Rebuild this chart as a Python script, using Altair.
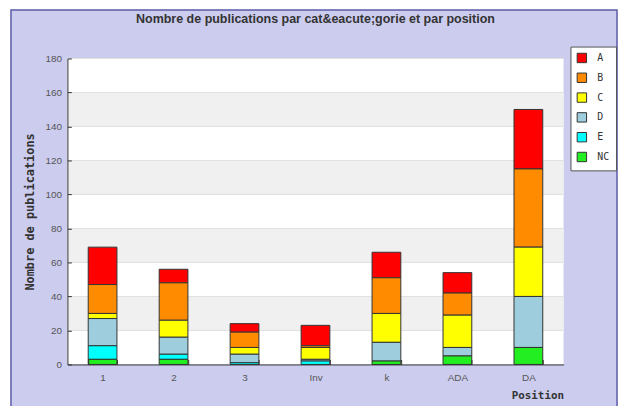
import altair as alt
import pandas as pd

categories = ["1", "2", "3", "Inv", "k", "ADA", "DA"]
series = ["A", "B", "C", "D", "E", "NC"]
colors = ["#FF0000", "#FF8C00", "#FFFF00", "#9ECEDE", "#00FFFF", "#22EE22"]
val_A = [22, 8, 5, 12, 15, 12, 35]
val_B = [17, 22, 9, 1, 21, 13, 46]
val_C = [3, 10, 4, 7, 17, 19, 29]
val_D = [16, 10, 5, 1, 11, 5, 30]
val_E = [8, 3, 1, 2, 0, 0, 0]
val_NC = [3, 3, 0, 0, 2, 5, 10]
y_ticks = [0, 20, 40, 60, 80, 100, 120, 140, 160, 180]
stripe_lo = [20, 60, 100, 140]
stripe_hi = [40, 80, 120, 160]
title_text = ["Nombre de publications par cat&eacute;gorie et par position"]

values = {"A": val_A, "B": val_B, "C": val_C, "D": val_D, "E": val_E, "NC": val_NC}
rows = []
for i, s in enumerate(series):
    for c, v in zip(categories, values[s]):
        if v > 0:
            rows.append({"Position": c, "Serie": s, "n": v, "ordre": len(series) - 1 - i})
df = pd.DataFrame(rows)
stripes = pd.DataFrame({"lo": stripe_lo, "hi": stripe_hi})
grid = pd.DataFrame({"v": y_ticks[1:]})

W, H = 501, 309
yscale = alt.Scale(domain=[0, 180], nice=False)
yaxis = alt.Axis(values=y_ticks, title="Nombre de publications", titleX=-38, titleY=H / 2,
                 titleAngle=270, titleBaseline="middle", titleAlign="center",
                 titleFont="DejaVu Sans Mono", titleFontSize=12, titleFontWeight="bold",
                 titleColor="#333333", labelOverlap=False, labelFlush=False,
                 labelFont="Liberation Sans", labelFontSize=10, labelColor="#555555",
                 labelPadding=10, tickSize={"expr": "-4"}, tickColor="#333333",
                 domainColor="#333333", grid=False, zindex=1)

one = pd.DataFrame({"k": [0]})
frame = alt.Chart(one).mark_rect(fill="#CCCCEE", stroke="#5A5AA8", strokeWidth=1.5).encode(
    x=alt.value(-57), x2=alt.value(555), y=alt.value(-49), y2=alt.value(420))
plotbg = alt.Chart(one).mark_rect(fill="white").encode(
    x=alt.value(0), x2=alt.value(W), y=alt.value(0), y2=alt.value(H))
stripe_layer = alt.Chart(stripes).mark_rect(fill="#F0F0F0").encode(
    x=alt.value(0), x2=alt.value(W),
    y=alt.Y("lo:Q", scale=yscale, axis=yaxis), y2="hi:Q")
grid_layer = alt.Chart(grid).mark_rule(color="#E0E0E0", strokeWidth=1).encode(
    x=alt.value(0), x2=alt.value(W), y=alt.Y("v:Q", scale=yscale, axis=yaxis))
title_layer = alt.Chart(pd.DataFrame({"t": title_text})).mark_text(
    font="Liberation Sans", fontSize=12.6, fontWeight="bold", color="#333333",
    align="center", baseline="middle").encode(
    text="t:N", x=alt.value(W / 2), y=alt.value(-40))

bars = alt.Chart(df).mark_bar(stroke="#333333", strokeWidth=1).encode(
    x=alt.X("Position:N", sort=categories,
            scale=alt.Scale(paddingInner=0.595, paddingOuter=0.293),
            axis=alt.Axis(title="Position", titleX=W, titleY=31, titleAlign="right",
                          titleBaseline="middle", titleFont="DejaVu Sans Mono", titleFontSize=11,
                          titleFontWeight="bold", titleColor="#333333",
                          labelAngle=0, labelFont="Liberation Sans", labelFontSize=10,
                          labelColor="#555555", labelPadding=13,
                          tickBand="extent", tickSize={"expr": "-5"}, tickColor="#333333",
                          domainColor="#333333", grid=False, zindex=1)),
    y=alt.Y("n:Q", stack="zero", scale=yscale, axis=yaxis),
    color=alt.Color("Serie:N", scale=alt.Scale(domain=series, range=colors),
                    legend=alt.Legend(title=None, orient="none", legendX=508, legendY=-12,
                                      fillColor="white", strokeColor="#555555", padding=6,
                                      symbolType="square", symbolSize=90,
                                      symbolStrokeColor="#333333", symbolStrokeWidth=1,
                                      labelFont="DejaVu Sans Mono", labelFontSize=10,
                                      labelColor="#333333", labelOffset=10, rowPadding=5,
                                      zindex=2)),
    order=alt.Order("ordre:Q", sort="ascending"),
)

chart = alt.layer(frame, plotbg, stripe_layer, grid_layer, bars, title_layer).properties(
    width=W, height=H,
    autosize=alt.AutoSizeParams(type="none"),
    padding={"left": 60, "top": 49, "right": 56, "bottom": 40},
    background="white",
).configure_view(stroke=None)

chart.save("out.html", embed_options={"renderer": "svg", "actions": False})
